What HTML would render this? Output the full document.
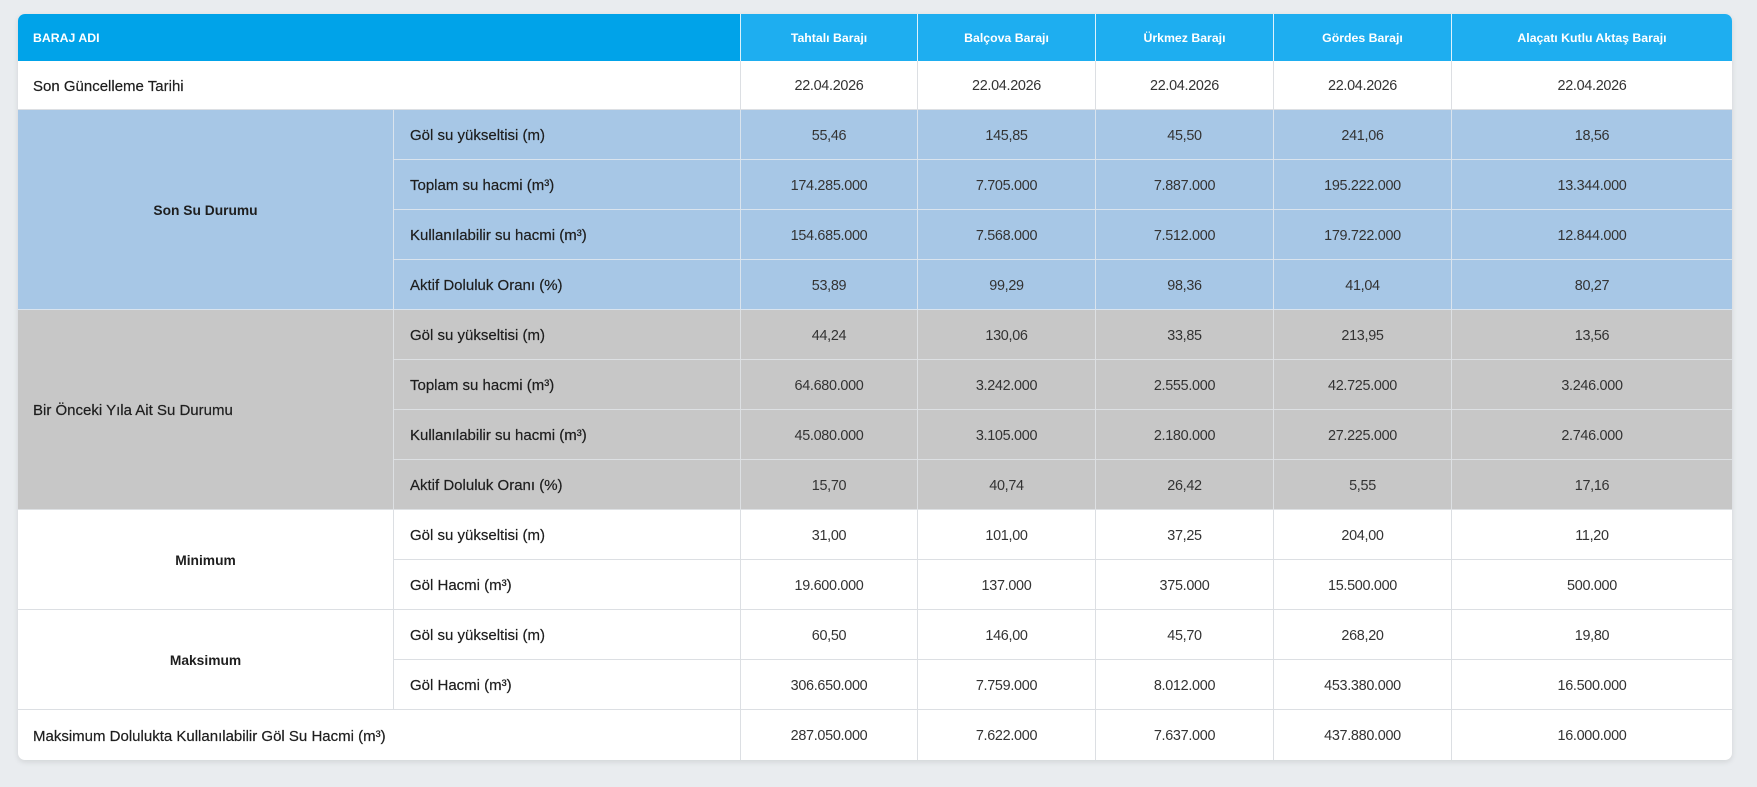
<!DOCTYPE html>
<html>
<head>
<meta charset="utf-8">
<style>
  html,body{margin:0;padding:0;}
  body{width:1757px;height:787px;background:#e9ecef;position:relative;overflow:hidden;font-family:"Liberation Sans",sans-serif;}
  .tbl{position:absolute;left:18px;top:14px;width:1714px;height:746px;display:grid;
    grid-template-columns:376px 347px 177px 178px 178px 178px 280px;
    grid-template-rows:47px 49px repeat(12,50px) 50px;
    border-radius:7px;overflow:hidden;background:#fff;
    box-shadow:0 2px 6px rgba(0,0,0,0.10);}
  .c{box-sizing:border-box;display:flex;align-items:center;justify-content:center;padding-top:2px;
     border-right:1px solid #dcdfe3;border-bottom:1px solid #dcdfe3;
     font-size:14.4px;color:#333;letter-spacing:-0.3px;white-space:nowrap;}
  .h{background:#1eaef0;color:#fff;font-weight:bold;font-size:12.3px;letter-spacing:0;padding-top:1px;
     border-right:1px solid rgba(255,255,255,0.85);border-bottom:none;}
  .h0{background:#00a3e9;justify-content:flex-start;padding-left:15px;grid-column:span 2;}
  .last{border-right:none;}
  .lbl{justify-content:flex-start;padding-left:16px;font-size:15px;color:#1e1e1e;letter-spacing:0;-webkit-text-stroke:0.2px #1e1e1e;}
  .wide{grid-column:span 2;padding-left:15px;}
  .grp{font-weight:bold;font-size:13.8px;color:#1e1e1e;letter-spacing:0;}
  .b{background:#a7c7e6;border-color:#dae4ee;}
  .g{background:#c7c7c7;border-color:#dde0e3;}
  .r4{grid-row:span 4;}
  .r2{grid-row:span 2;}
  .nob{border-bottom:none;}
</style>
</head>
<body>
<div class="tbl">
  <div class="c h h0">BARAJ ADI</div>
  <div class="c h">Tahtalı Barajı</div>
  <div class="c h">Balçova Barajı</div>
  <div class="c h">Ürkmez Barajı</div>
  <div class="c h">Gördes Barajı</div>
  <div class="c h last">Alaçatı Kutlu Aktaş Barajı</div>

  <div class="c lbl wide">Son Güncelleme Tarihi</div>
  <div class="c">22.04.2026</div>
  <div class="c">22.04.2026</div>
  <div class="c">22.04.2026</div>
  <div class="c">22.04.2026</div>
  <div class="c last">22.04.2026</div>

  <div class="c b grp r4">Son Su Durumu</div>
  <div class="c b lbl">Göl su yükseltisi (m)</div>
  <div class="c b">55,46</div>
  <div class="c b">145,85</div>
  <div class="c b">45,50</div>
  <div class="c b">241,06</div>
  <div class="c b last">18,56</div>

  <div class="c b lbl">Toplam su hacmi (m³)</div>
  <div class="c b">174.285.000</div>
  <div class="c b">7.705.000</div>
  <div class="c b">7.887.000</div>
  <div class="c b">195.222.000</div>
  <div class="c b last">13.344.000</div>

  <div class="c b lbl">Kullanılabilir su hacmi (m³)</div>
  <div class="c b">154.685.000</div>
  <div class="c b">7.568.000</div>
  <div class="c b">7.512.000</div>
  <div class="c b">179.722.000</div>
  <div class="c b last">12.844.000</div>

  <div class="c b lbl">Aktif Doluluk Oranı (%)</div>
  <div class="c b">53,89</div>
  <div class="c b">99,29</div>
  <div class="c b">98,36</div>
  <div class="c b">41,04</div>
  <div class="c b last">80,27</div>

  <div class="c g lbl r4" style="padding-left:15px;">Bir Önceki Yıla Ait Su Durumu</div>
  <div class="c g lbl">Göl su yükseltisi (m)</div>
  <div class="c g">44,24</div>
  <div class="c g">130,06</div>
  <div class="c g">33,85</div>
  <div class="c g">213,95</div>
  <div class="c g last">13,56</div>

  <div class="c g lbl">Toplam su hacmi (m³)</div>
  <div class="c g">64.680.000</div>
  <div class="c g">3.242.000</div>
  <div class="c g">2.555.000</div>
  <div class="c g">42.725.000</div>
  <div class="c g last">3.246.000</div>

  <div class="c g lbl">Kullanılabilir su hacmi (m³)</div>
  <div class="c g">45.080.000</div>
  <div class="c g">3.105.000</div>
  <div class="c g">2.180.000</div>
  <div class="c g">27.225.000</div>
  <div class="c g last">2.746.000</div>

  <div class="c g lbl">Aktif Doluluk Oranı (%)</div>
  <div class="c g">15,70</div>
  <div class="c g">40,74</div>
  <div class="c g">26,42</div>
  <div class="c g">5,55</div>
  <div class="c g last">17,16</div>

  <div class="c grp r2">Minimum</div>
  <div class="c lbl">Göl su yükseltisi (m)</div>
  <div class="c">31,00</div>
  <div class="c">101,00</div>
  <div class="c">37,25</div>
  <div class="c">204,00</div>
  <div class="c last">11,20</div>

  <div class="c lbl">Göl Hacmi (m³)</div>
  <div class="c">19.600.000</div>
  <div class="c">137.000</div>
  <div class="c">375.000</div>
  <div class="c">15.500.000</div>
  <div class="c last">500.000</div>

  <div class="c grp r2">Maksimum</div>
  <div class="c lbl">Göl su yükseltisi (m)</div>
  <div class="c">60,50</div>
  <div class="c">146,00</div>
  <div class="c">45,70</div>
  <div class="c">268,20</div>
  <div class="c last">19,80</div>

  <div class="c lbl">Göl Hacmi (m³)</div>
  <div class="c">306.650.000</div>
  <div class="c">7.759.000</div>
  <div class="c">8.012.000</div>
  <div class="c">453.380.000</div>
  <div class="c last">16.500.000</div>

  <div class="c lbl wide nob">Maksimum Dolulukta Kullanılabilir Göl Su Hacmi (m³)</div>
  <div class="c nob">287.050.000</div>
  <div class="c nob">7.622.000</div>
  <div class="c nob">7.637.000</div>
  <div class="c nob">437.880.000</div>
  <div class="c nob last">16.000.000</div>
</div>
</body>
</html>
